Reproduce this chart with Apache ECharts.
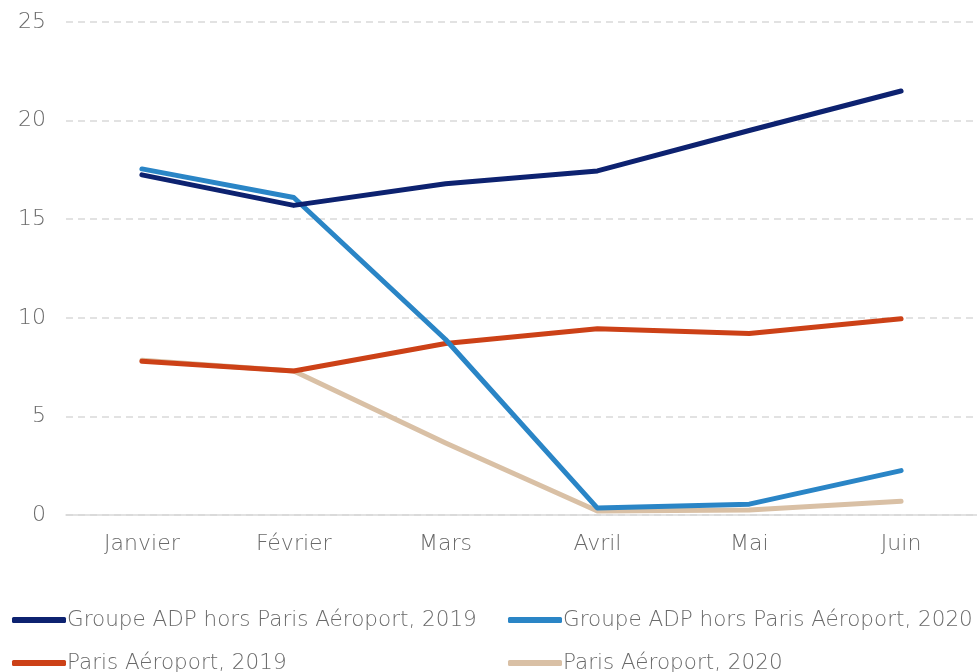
<!DOCTYPE html>
<html>
<head>
<meta charset="utf-8">
<script src="https://cdn.jsdelivr.net/npm/echarts@6/dist/echarts.min.js"></script>
<style>
  html, body { margin: 0; padding: 0; background: #fff; }
  #chart { width: 977px; height: 672px; }
</style>
</head>
<body>
<div id="chart"></div>
<script>
// Trafic mensuel (millions de passagers), janvier à juin
const months = ['Janvier', 'Février', 'Mars', 'Avril', 'Mai', 'Juin'];
const adpHors2019 = [17.25, 15.7, 16.8, 17.45, 19.5, 21.5];
const adpHors2020 = [17.55, 16.1, 8.9, 0.35, 0.55, 2.25];
const paris2019 = [7.8, 7.3, 8.7, 9.45, 9.2, 9.95];
const paris2020 = [7.85, 7.3, 3.65, 0.2, 0.25, 0.7];

const names = [
  'Groupe ADP hors Paris Aéroport, 2019',
  'Groupe ADP hors Paris Aéroport, 2020',
  'Paris Aéroport, 2019',
  'Paris Aéroport, 2020'
];
const colors = ['#0d2270', '#2a85c6', '#cc4117', '#d9c0a5'];
const values = [adpHors2019, adpHors2020, paris2019, paris2020];

const FONT = '"DejaVu Sans", sans-serif';
const GREY = '#6a6a6a';

const chart = echarts.init(document.getElementById('chart'));

const legendPos = [
  { left: 7, top: 604 },
  { left: 503, top: 604 },
  { left: 7, top: 647 },
  { left: 503, top: 647 }
];

chart.setOption({
  animation: false,
  color: colors,
  grid: { left: 66, top: 22, width: 918, height: 493, containLabel: false },
  legend: names.map((n, i) => ({
    data: [n],
    left: legendPos[i].left,
    top: legendPos[i].top,
    icon: 'roundRect',
    itemWidth: 54,
    itemHeight: 6,
    itemGap: 0,
    textStyle: { color: GREY, fontSize: 21.5, fontWeight: 200, fontFamily: FONT, padding: [0, 0, 0, -4] }
  })),
  xAxis: {
    type: 'category',
    data: months,
    boundaryGap: true,
    axisLine: { lineStyle: { color: '#d9d9d9', width: 1.5 } },
    axisTick: { show: false },
    axisLabel: { color: GREY, fontSize: 22, fontWeight: 200, fontFamily: FONT, margin: 18 }
  },
  yAxis: {
    type: 'value',
    min: 0,
    max: 25,
    interval: 5,
    axisLine: { show: false },
    axisTick: { show: false },
    axisLabel: { color: GREY, fontSize: 22, fontWeight: 200, fontFamily: FONT, margin: 20 },
    splitLine: { lineStyle: { color: '#d9d9d9', type: [7, 5], width: 1.5 } }
  },
  series: names.map((n, i) => ({
    name: n,
    type: 'line',
    data: values[i],
    symbol: 'none',
    lineStyle: { width: 5, color: colors[i], cap: 'round', join: 'round' },
    itemStyle: { color: colors[i] },
    z: 10 - i
  }))
});
</script>
</body>
</html>
